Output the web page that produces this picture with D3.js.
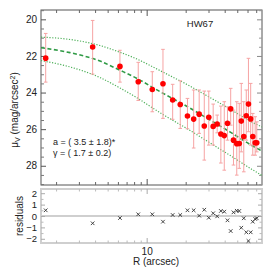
<!DOCTYPE html>
<html>
<head>
<meta charset="utf-8">
<script src="https://cdn.jsdelivr.net/npm/d3@7"></script>
<style>
  body { margin: 0; background: #fff; }
  svg { display: block; font-family: "Liberation Sans", Arial, sans-serif; }
</style>
</head>
<body>
<div id="chart"></div>
<script>
// surface brightness profile (R in arcsec, mag/arcsec^2)
const radius = [1.663, 3.83, 6.22, 8.61, 11.05, 13.36, 15.87, 18.16, 20.64, 23.05, 25.42, 27.83, 30.15, 32.6, 35.0,
  37.37, 39.7, 42.03, 44.5, 46.75, 49.56, 51.8, 53.7, 56.14, 58.69, 61.0, 63.46, 65.87, 68.74, 70.72];
const mu = [22.12, 21.51, 22.57, 23.41, 23.83, 23.52, 24.41, 24.65, 25.28, 25.45, 25.18, 25.83, 25.35, 25.85, 25.72,
  26.26, 26.35, 25.68, 24.89, 26.60, 26.79, 26.78, 25.56, 26.40, 25.27, 24.63, 25.44, 26.40, 26.74, 26.74];
const muTop = [20.77, 20.06, 21.69, 22.35, 22.86, 21.64, 23.55, 23.36, 24.32, 23.86, 23.86, 23.92, 23.92, 24.63, 25.23,
  24.74, 24.50, 24.78, 23.77, 24.96, 24.50, 24.59, 23.50, 24.50, 23.86, 22.13, 23.50, 25.14, 25.32, 25.60];
const muBottom = [23.43, 22.99, 23.43, 24.43, 25.05, 25.41, 25.46, 25.96, 25.98, 27.03, 26.23, 27.69, 26.87, 26.87, 26.20,
  27.85, 28.24, 26.60, 25.78, 27.96, 28.51, 28.14, 27.24, 28.33, 26.60, 26.14, 26.87, 27.42, 27.42, 27.24];
const residuals = [0.5, -0.64, -0.18, 0.15, 0.15, -0.5, 0.09, 0.09, 0.5, 0.5, 0.03, 0.55, -0.15, 0.24, -0.03,
  0.44, 0.38, -0.38, -1.32, 0.32, 0.46, 0.44, -1.03, -0.2, -1.43, -2.19, -1.43, -0.5, -0.26, -0.2];

// fitted profile and its envelope
const fitR = [1.53, 2.56, 4.36, 6.22, 8.12, 12.67, 21.6, 30.8, 43.9, 62.7, 77.6];
const fitMu = [21.55, 21.82, 22.28, 22.78, 23.17, 23.95, 24.85, 25.5, 26.15, 26.83, 27.2];
const fitUpper = [20.97, 21.1, 21.43, 21.8, 22.12, 22.8, 23.65, 24.27, 24.9, 25.56, 25.88];
const fitLower = [22.25, 22.6, 23.18, 23.75, 24.22, 25.1, 26.07, 26.75, 27.43, 28.13, 28.53];

const xMajor = [10];
const xMinor = [2, 3, 4, 5, 6, 7, 8, 9, 20, 30, 40, 50, 60, 70];
const yMajor = [20, 22, 24, 26, 28];
const resTicks = [-2, -1, 0, 1, 2];

const W = 270, H = 270;
const left = 41, right = 262;
const mainTop = 10, mainBottom = 185;
const resTop = 189, resBottom = 243;

const svg = d3.select("#chart").append("svg")
  .attr("width", W).attr("height", H);

const x = d3.scaleLog().domain([1.53, 77.6]).range([left, right]);
const y = d3.scaleLinear().domain([19.49, 29.05]).range([mainTop, mainBottom]);
const yr = d3.scaleLinear().domain([-2.37, 2.37]).range([resBottom, resTop]);

const yMinor = d3.range(19.5, 29.01, 0.5).filter(v => v % 2 !== 0);
const resMinor = d3.range(-2, 2.01, 0.5).filter(v => !Number.isInteger(v));

function styleAxis(g, color) {
  g.select(".domain").remove();
  g.selectAll(".tick line").attr("stroke", color);
  g.selectAll(".tick text").attr("fill", "#222").attr("font-size", 10);
}

// ---- main panel ----
const main = svg.append("g");

// frame
main.append("rect")
  .attr("x", left).attr("y", mainTop)
  .attr("width", right - left).attr("height", mainBottom - mainTop)
  .attr("fill", "none").attr("stroke", "#555").attr("stroke-width", 1);

// y ticks left/right
main.append("g").attr("transform", `translate(${left},0)`)
  .call(d3.axisLeft(y).tickValues(yMajor).tickSize(-5).tickPadding(4).tickFormat(d3.format("d")))
  .call(g => styleAxis(g, "#555"));
main.append("g").attr("transform", `translate(${left},0)`)
  .call(d3.axisLeft(y).tickValues(yMinor).tickSize(-3).tickFormat(""))
  .call(g => styleAxis(g, "#777"));
main.append("g").attr("transform", `translate(${right},0)`)
  .call(d3.axisRight(y).tickValues(yMajor).tickSize(-5).tickFormat(""))
  .call(g => styleAxis(g, "#888"));
main.append("g").attr("transform", `translate(${right},0)`)
  .call(d3.axisRight(y).tickValues(yMinor).tickSize(-3).tickFormat(""))
  .call(g => styleAxis(g, "#999"));

// x ticks top/bottom
[[mainTop, d3.axisTop], [mainBottom, d3.axisBottom]].forEach(([yy, ax]) => {
  main.append("g").attr("transform", `translate(0,${yy})`)
    .call(ax(x).tickValues(xMajor).tickSize(-6).tickFormat(""))
    .call(g => styleAxis(g, "#555"));
  main.append("g").attr("transform", `translate(0,${yy})`)
    .call(ax(x).tickValues(xMinor).tickSize(-3).tickFormat(""))
    .call(g => styleAxis(g, "#666"));
});

const clip = svg.append("clipPath").attr("id", "mainclip")
  .append("rect").attr("x", left).attr("y", mainTop)
  .attr("width", right - left).attr("height", mainBottom - mainTop);

const line = d3.line().curve(d3.curveMonotoneX);
const curves = main.append("g").attr("clip-path", "url(#mainclip)");

curves.append("path")
  .attr("d", line(fitR.map((r, i) => [x(r), y(fitUpper[i])])))
  .attr("fill", "none").attr("stroke", "#4fb05a").attr("stroke-width", 1.2)
  .attr("stroke-dasharray", "1.2,1.6");
curves.append("path")
  .attr("d", line(fitR.map((r, i) => [x(r), y(fitLower[i])])))
  .attr("fill", "none").attr("stroke", "#4fb05a").attr("stroke-width", 1.2)
  .attr("stroke-dasharray", "1.2,1.6");
curves.append("path")
  .attr("d", line(fitR.map((r, i) => [x(r), y(fitMu[i])])))
  .attr("fill", "none").attr("stroke", "#2f9a45").attr("stroke-width", 1.6)
  .attr("stroke-dasharray", "4,2.5");

// error bars
const bars = main.append("g").attr("stroke", "#f6a3a3").attr("stroke-width", 1);
radius.forEach((r, i) => {
  const cx = x(r);
  bars.append("line").attr("x1", cx).attr("x2", cx)
    .attr("y1", y(muTop[i])).attr("y2", y(muBottom[i]));
  bars.append("line").attr("x1", cx - 1.8).attr("x2", cx + 1.8)
    .attr("y1", y(muTop[i])).attr("y2", y(muTop[i]));
  bars.append("line").attr("x1", cx - 1.8).attr("x2", cx + 1.8)
    .attr("y1", y(muBottom[i])).attr("y2", y(muBottom[i]));
});

// points
main.append("g").selectAll("circle")
  .data(radius)
  .enter().append("circle")
  .attr("cx", d => x(d))
  .attr("cy", (d, i) => y(mu[i]))
  .attr("r", 2.8)
  .attr("fill", "#ff0000");

// labels
main.append("text").attr("x", 200).attr("y", 26.5)
  .attr("text-anchor", "middle").attr("font-size", 9.5).attr("fill", "#222")
  .text("HW67");
main.append("text").attr("x", 53).attr("y", 145)
  .attr("font-size", 9).attr("fill", "#222")
  .text("a = ( 3.5 ± 1.8)*");
main.append("text").attr("x", 53).attr("y", 156)
  .attr("font-size", 9).attr("fill", "#222")
  .text("γ = ( 1.7 ± 0.2)");

const yl = svg.append("text")
  .attr("transform", "translate(18,110) rotate(-90)")
  .attr("text-anchor", "middle").attr("font-size", 10).attr("fill", "#222");
yl.append("tspan").text("μ");
yl.append("tspan").attr("font-size", 7).attr("dy", 2).text("V");
yl.append("tspan").attr("dy", -2).text(" (mag/arcsec");
yl.append("tspan").attr("font-size", 7).attr("dy", -3).text("2");
yl.append("tspan").attr("dy", 3).text(")");

// ---- residual panel ----
const res = svg.append("g");

res.append("line")
  .attr("x1", left).attr("x2", right)
  .attr("y1", yr(0)).attr("y2", yr(0))
  .attr("stroke", "#cfcfcf").attr("stroke-width", 2);

res.append("rect")
  .attr("x", left).attr("y", resTop)
  .attr("width", right - left).attr("height", resBottom - resTop)
  .attr("fill", "none").attr("stroke", "#cfcfcf").attr("stroke-width", 2);

res.append("g").attr("transform", `translate(${left},0)`)
  .call(d3.axisLeft(yr).tickValues(resTicks).tickSize(-4).tickPadding(4)
    .tickFormat(d => d < 0 ? "\u2212" + Math.abs(d) : d))
  .call(g => styleAxis(g, "#aaa"))
  .call(g => g.selectAll(".tick text").attr("font-size", 9.5));
res.append("g").attr("transform", `translate(${left},0)`)
  .call(d3.axisLeft(yr).tickValues(resMinor).tickSize(-2.5).tickFormat(""))
  .call(g => styleAxis(g, "#bbb"));
res.append("g").attr("transform", `translate(${right},0)`)
  .call(d3.axisRight(yr).tickValues(resTicks).tickSize(-4).tickFormat(""))
  .call(g => styleAxis(g, "#aaa"));
res.append("g").attr("transform", `translate(${right},0)`)
  .call(d3.axisRight(yr).tickValues(resMinor).tickSize(-2.5).tickFormat(""))
  .call(g => styleAxis(g, "#bbb"));
[[resTop, d3.axisTop], [resBottom, d3.axisBottom]].forEach(([yy, ax]) => {
  res.append("g").attr("transform", `translate(0,${yy})`)
    .call(ax(x).tickValues(xMajor).tickSize(-5).tickFormat(""))
    .call(g => styleAxis(g, "#aaa"));
  res.append("g").attr("transform", `translate(0,${yy})`)
    .call(ax(x).tickValues(xMinor).tickSize(-2.5).tickFormat(""))
    .call(g => styleAxis(g, "#bbb"));
});

// residual crosses
const cross = res.append("g").attr("stroke", "#333").attr("stroke-width", 0.9);
residuals.forEach((v, i) => {
  const cx = x(radius[i]), cy = yr(v);
  cross.append("line").attr("x1", cx - 1.8).attr("x2", cx + 1.8).attr("y1", cy - 1.8).attr("y2", cy + 1.8);
  cross.append("line").attr("x1", cx - 1.8).attr("x2", cx + 1.8).attr("y1", cy + 1.8).attr("y2", cy - 1.8);
});

// x axis labels
svg.append("g").attr("transform", `translate(0,${resBottom})`)
  .call(d3.axisBottom(x).tickValues(xMajor).tickSize(0).tickPadding(5).tickFormat(d3.format("d")))
  .call(g => g.select(".domain").remove())
  .call(g => g.selectAll("text").attr("font-size", 10).attr("fill", "#222"));

svg.append("text").attr("x", 156).attr("y", 265)
  .attr("text-anchor", "middle").attr("font-size", 10).attr("fill", "#222")
  .text("R (arcsec)");

svg.append("text")
  .attr("transform", "translate(23,216) rotate(-90)")
  .attr("text-anchor", "middle").attr("font-size", 10).attr("fill", "#222")
  .text("residuals");
</script>
</body>
</html>
